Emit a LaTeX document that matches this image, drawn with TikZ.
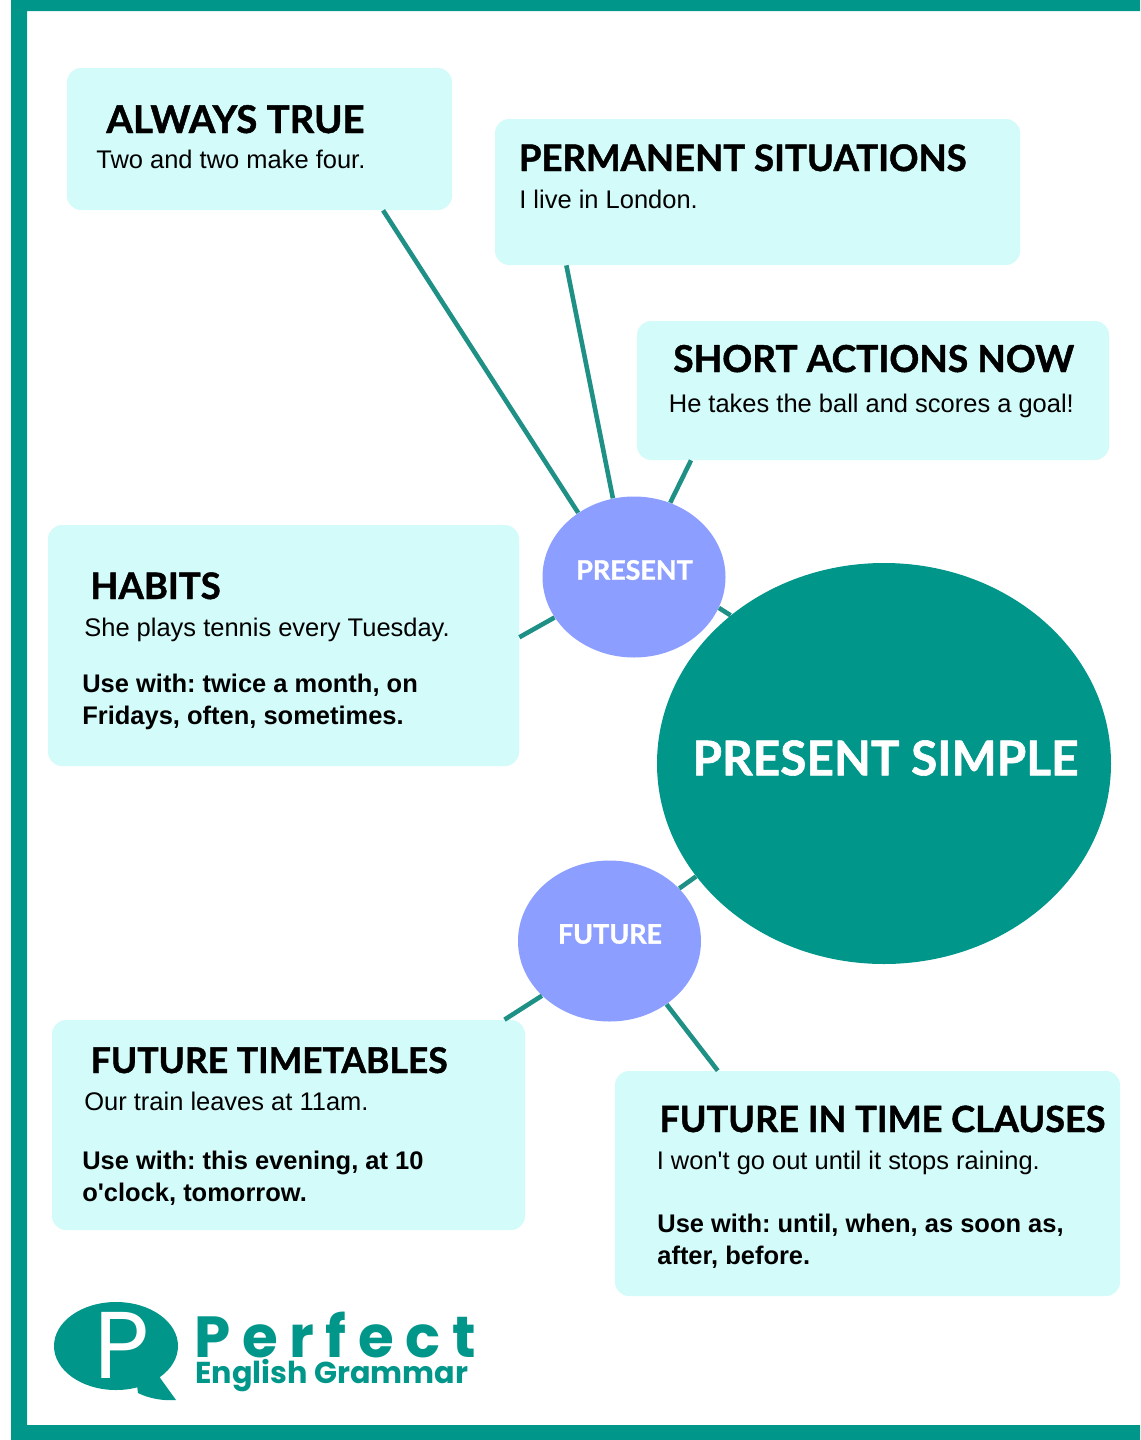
\documentclass[tikz,border=0pt]{standalone}
\usepackage{fontspec}
\usetikzlibrary{shapes.geometric}
\setmainfont{Liberation Sans}
\newfontfamily\headfont[BoldFeatures={FakeBold=1.2}]{Lato}
\newfontfamily\logofont{Poppins}
\newfontfamily\logowide[LetterSpace=20]{Poppins}
\definecolor{tealdark}{HTML}{00968A}
\definecolor{tealline}{HTML}{1F9086}
\definecolor{boxfill}{HTML}{D3FBF9}
\definecolor{circlefill}{HTML}{8C9EFF}
\newcommand{\px}{0.02cm}
\tikzset{
	infobox/.style={fill=boxfill,rounded corners=8pt,inner sep=0pt},
	topic/.style={ellipse,fill=circlefill,inner sep=0pt,minimum width=183*\px,minimum height=161*\px},
	link/.style={draw=tealline,line width=2.6pt},
	heading/.style={anchor=base west,inner sep=0pt,font=\headfont\bfseries\fontsize{20.8}{24}\selectfont},
	example/.style={anchor=base west,inner sep=0pt,font=\fontsize{14.5}{17}\selectfont},
	usewith/.style={anchor=north west,inner sep=0pt,align=left,font=\bfseries\fontsize{14.5}{18.1}\selectfont},
	topiclabel/.style={text=white,inner sep=0pt,font=\headfont\bfseries\fontsize{15.3}{18}\selectfont}
}
\begin{document}
\frenchspacing
\begin{tikzpicture}[x=0.02cm,y=-0.02cm,line join=round]
	\useasboundingbox (0,0) rectangle (1140,1440);
	\fill[white] (0,0) rectangle (1140,1440);
	\fill[tealdark] (11,0) rectangle (1140,11) (11,0) rectangle (27,1440) (11,1425) rectangle (1140,1440);
	% boxes
	\node[infobox,minimum width=385*\px,minimum height=142*\px] (alwaystrue) at (259.5,139) {};
	\node[infobox,minimum width=525*\px,minimum height=146*\px] (permanent) at (757.5,192) {};
	\node[infobox,minimum width=472*\px,minimum height=139*\px] (shortactions) at (873,390.5) {};
	\node[infobox,minimum width=471*\px,minimum height=241*\px] (habits) at (283.5,645.5) {};
	\node[infobox,minimum width=473*\px,minimum height=210*\px] (timetables) at (288.5,1125) {};
	\node[infobox,minimum width=505*\px,minimum height=225*\px] (clauses) at (867.5,1183.5) {};
	% circles
	\node[topic] (present) at (634,577) {};
	\node[topic] (future) at (609.5,941) {};
	\node[ellipse,fill=tealdark,inner sep=0pt,minimum width=454*\px,minimum height=401*\px] (simple) at (884,763.5) {};
	% links
	\draw[link] (alwaystrue.-30.4) -- (present.131.6);
	\draw[link] (permanent.-159) -- (present.105.8);
	\draw[link] (shortactions.-159) -- (present.64);
	\draw[link] (habits.2.55) -- (present.-153.4);
	\draw[link] (present.-20.3) -- (simple.136.4);
	\draw[link] (future.37.7) -- (simple.-149.7);
	\draw[link] (future.-141.9) -- (timetables.26.2);
	\draw[link] (future.-48.6) -- (clauses.143);
	% texts
	\node[heading,font=\headfont\bfseries\fontsize{21.8}{24}\selectfont] (alwaystruehead) at (106,133) {ALWAYS TRUE};
	\node[example] (alwaystruetext) at (96,168) {Two and two make four.};
	\node[heading] (permanenthead) at (518.5,171) {PERMANENT SITUATIONS};
	\node[example] (permanenttext) at (519,208) {I live in London.};
	\node[heading,font=\headfont\bfseries\fontsize{21.1}{24}\selectfont] (shorthead) at (673,372) {SHORT ACTIONS NOW};
	\node[example] (shorttext) at (668.5,412) {He takes the ball and scores a goal!};
	\node[heading] (habitshead) at (90,599) {HABITS};
	\node[example] (habitstext) at (84,636) {She plays tennis every Tuesday.};
	\node[usewith] (habitsuse) at (82,674) {Use with: twice a month, on\\Fridays, often, sometimes.};
	\node[heading,font=\headfont\bfseries\fontsize{20.2}{24}\selectfont] (timetableshead) at (90.5,1073) {FUTURE TIMETABLES};
	\node[example] (timetablestext) at (84,1110) {Our train leaves at 11am.};
	\node[usewith] (timetablesuse) at (82,1151) {Use with: this evening, at 10\\o\textquotesingle clock, tomorrow.};
	\node[heading,font=\headfont\bfseries\fontsize{20.55}{24}\selectfont] (clauseshead) at (659,1132) {FUTURE IN TIME CLAUSES};
	\node[example] (clausestext) at (656.5,1169) {I won\textquotesingle t go out until it stops raining.};
	\node[usewith] (clausesuse) at (657,1214) {Use with: until, when, as soon as,\\after, before.};
	\node[topiclabel] (presentlabel) at (634.5,570) {PRESENT};
	\node[topiclabel] (futurelabel) at (610,934) {FUTURE};
	\node[text=white,inner sep=0pt,font=\headfont\bfseries\fontsize{27.2}{30}\selectfont] (simplelabel) at (885.5,758) {PRESENT SIMPLE};
	% logo
	\node[ellipse,fill=tealdark,inner sep=0pt,minimum width=124*\px,minimum height=88*\px] (bubble) at (116,1346) {};
	\fill[tealdark] (137,1385) -- (138,1393) .. controls (150,1399) and (165,1401) .. (176,1400) -- (158,1375) -- cycle;
	\node[text=white,inner sep=0pt,font=\logofont\fontsize{54}{54}\selectfont] (logop) at (122,1345) {P};
	\node[anchor=base west,inner sep=0pt,text=tealdark,font=\logowide\bfseries\fontsize{33}{33}\selectfont] (logoperfect) at (194,1357) {Perfect};
	\node[anchor=base west,inner sep=0pt,text=tealdark,font=\logofont\bfseries\fontsize{17.2}{18}\selectfont] (logoenglish) at (195,1383) {English Grammar};
\end{tikzpicture}
\end{document}
